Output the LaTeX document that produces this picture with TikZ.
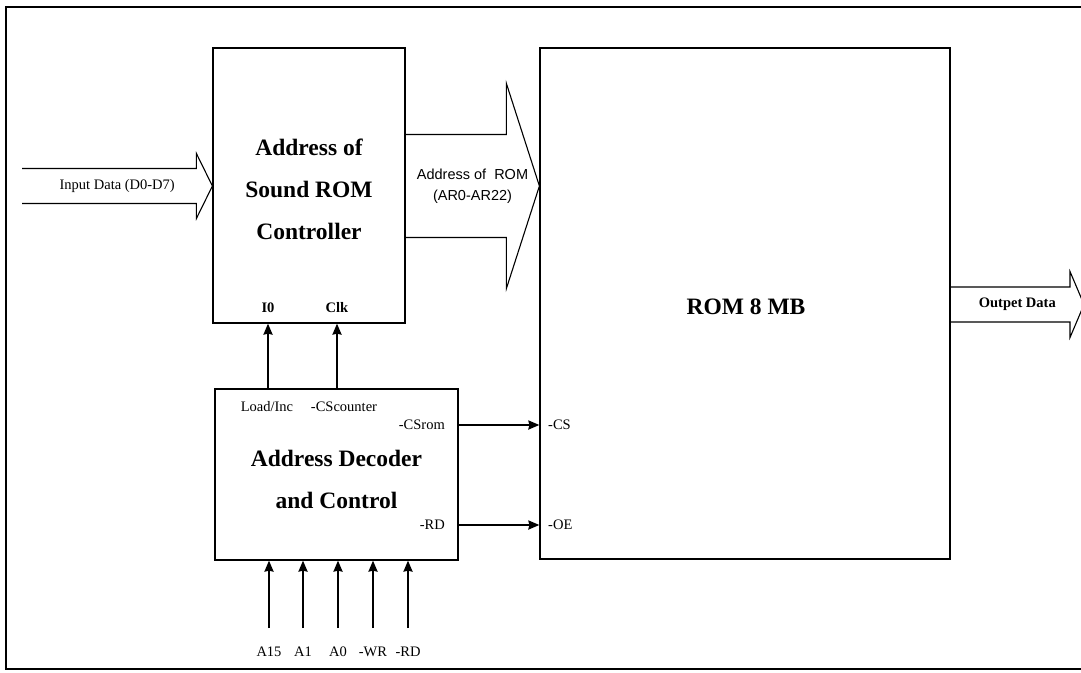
\documentclass[tikz,border=0pt]{standalone}
\usepackage{fontspec}
\setmainfont{Liberation Serif}
\setsansfont{Liberation Sans}
\usetikzlibrary{calc,positioning,arrows.meta}
\tikzstyle{block} = [rectangle, draw=black, line width=1.2pt, inner sep=0pt]
\tikzstyle{title} = [font=\bfseries\fontsize{23.5}{42}\selectfont, align=center]
\tikzstyle{port} = [font=\fontsize{14.5}{21}\selectfont, inner sep=0pt, align=center]
\tikzstyle{arrow} = [line width=2pt,->,>={Stealth[length=11pt,width=9pt,inset=1pt]}]
\tikzstyle{bus} = [line width=1.1pt]
% tail, tip, half shaft, half head, head length, label
\newcommand{\busarrow}[6]{%
  \draw[bus] ($(#1)+(0,-#3)$) -- ($(#2)+(-#5,-#3)$) -- ($(#2)+(-#5,-#4)$) -- (#2)
    -- ($(#2)+(-#5,#4)$) -- ($(#2)+(-#5,#3)$) -- ($(#1)+(0,#3)$);
  \path (#1) -- (#2) node[port, midway]{#6};}

\begin{document}
\begin{tikzpicture}[x=1pt,y=-1pt]
      \useasboundingbox (0,0) rectangle (1081,672);
      \draw[line width=1.8pt] (1081,7) -- (6,7) -- (6,669) -- (1081,669);
      % blocks
      \node (ctrl)[block, minimum width=192pt, minimum height=275pt] at (309,185.5){};
      \node (ctrltxt)[title] at (309,189){Address of\\Sound ROM\\Controller};
      \node (dec)[block, minimum width=243pt, minimum height=171pt] at (336.5,474.5){};
      \node (dectxt)[title] at (336.5,479){Address Decoder\\and Control};
      \node (rom)[block, minimum width=410pt, minimum height=511pt] at (745,303.5){};
      \node (romtxt)[title] at (746,307){ROM 8 MB};
      % ports
      \node (i0)[port, font=\bfseries\fontsize{14.5}{21}\selectfont] at (268,308){I0};
      \node (clk)[port, font=\bfseries\fontsize{14.5}{21}\selectfont] at (337,308){Clk};
      \node (ldinc)[port] at (267,407){Load/Inc};
      \node (cscnt)[port] at (344,407){-CScounter};
      \node (csrom)[port, anchor=east] at (445,425){-CSrom};
      \node (rdout)[port, anchor=east] at (445,525){-RD};
      \node (cs)[port, anchor=west] at (548,425){-CS};
      \node (oe)[port, anchor=west] at (548,525){-OE};
      \draw[arrow] (dec.north -| i0) -- (ctrl.south -| i0);
      \draw[arrow] (dec.north -| clk) -- (ctrl.south -| clk);
      \draw[arrow] (dec.east |- csrom) -- (rom.west |- cs);
      \draw[arrow] (dec.east |- rdout) -- (rom.west |- oe);
      \foreach \sig/\xx [count=\i] in {A15/269, A1/303, A0/338, -WR/373, -RD/408} {
        \node (in\i)[port] at (\xx,652){\sig};
        \coordinate (s\i) at (\xx,628);
        \draw[arrow] (s\i) -- (s\i |- dec.south);
      }
      % buses
      \coordinate (intail) at (22,186);
      \coordinate (intip) at (ctrl.west |- intail);
      \coordinate (adtail) at (ctrl.east |- intail);
      \coordinate (adtip) at (rom.west |- intail);
      \coordinate (outtip) at (1084,304.5);
      \coordinate (outtail) at (rom.east |- outtip);
      \busarrow{intail}{intip}{17.5}{32.5}{16}{Input Data (D0-D7)}
      \busarrow{adtail}{adtip}{51.5}{102.5}{33}{\sffamily Address of\ \ ROM\\\sffamily (AR0-AR22)}
      \busarrow{outtail}{outtip}{17.5}{33}{14}{\bfseries Outpet Data}
\end{tikzpicture}
\end{document}
